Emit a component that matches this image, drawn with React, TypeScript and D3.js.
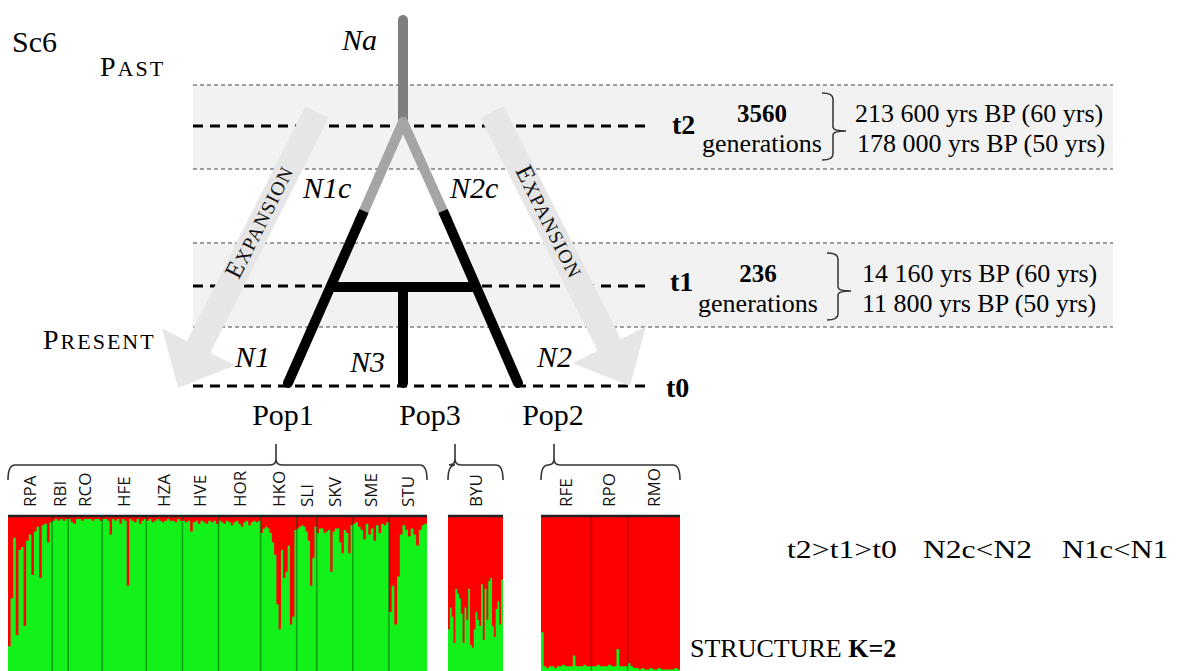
import { useEffect, useRef } from "react";
import * as d3 from "d3";

const W = 1177;
const H = 671;
const SERIF = "'Liberation Serif', 'Times New Roman', serif";
const SANS = "'Open Sans', 'DejaVu Sans', sans-serif";

// time axis of the scenario
const timeLabels = ["t2", "t1", "t0"];
const generationCounts = ["3560", "236"];
const yearsAt60 = ["213 600 yrs BP (60 yrs)", "14 160 yrs BP (60 yrs)"];
const yearsAt50 = ["178 000 yrs BP (50 yrs)", "11 800 yrs BP (50 yrs)"];
const relations = ["t2>t1>t0", "N2c<N2", "N1c<N1"];

// STRUCTURE K=2, share of the red cluster per individual
const pop1Groups = ["RPA", "RBI", "RCO", "HFE", "HZA", "HVE", "HOR", "HKO", "SLI", "SKV", "SME", "STU"];
const pop1Sizes = [22, 8, 17, 22, 18, 18, 21, 18, 10, 18, 18, 19];
const pop1Red = [
  [0.84, 0.53, 0.14, 0.77, 0.22, 0.2, 0.71, 0.16, 0.12, 0.38, 0.1, 0.07, 0.4, 0.06, 0.05, 0.17, 0.04],
  [0.03, 0.02, 0.03, 0.02, 0.03, 0.02],
  [0.02, 0.04, 0.05, 0.02, 0.02, 0.03, 0.02, 0.02, 0.02, 0.03, 0.02, 0.02, 0.03],
  [0.02, 0.02, 0.03, 0.12, 0.02, 0.03, 0.02, 0.05, 0.02, 0.03, 0.45, 0.02, 0.03, 0.04, 0.02, 0.05, 0.03, 0.02],
  [0.03, 0.02, 0.04, 0.03, 0.02, 0.03, 0.04, 0.03, 0.02, 0.03, 0.03, 0.04, 0.02, 0.03],
  [0.03, 0.04, 0.03, 0.1, 0.04, 0.03, 0.05, 0.03, 0.04, 0.05, 0.03, 0.04, 0.03, 0.05],
  [0.03, 0.04, 0.05, 0.03, 0.04, 0.06, 0.04, 0.03, 0.05, 0.07, 0.04, 0.03, 0.06, 0.04, 0.03, 0.04, 0.03],
  [0.11, 0.08, 0.07, 0.08, 0.11, 0.17, 0.25, 0.57, 0.73, 0.22, 0.4, 0.36, 0.19, 0.7, 0.65, 0.09],
  [0.08, 0.07, 0.06, 0.07, 0.1, 0.16, 0.45, 0.27, 0.07],
  [0.11, 0.08, 0.08, 0.11, 0.1, 0.09, 0.36, 0.1, 0.08, 0.08, 0.17, 0.24, 0.09, 0.11, 0.24, 0.06],
  [0.05, 0.04, 0.07, 0.09, 0.15, 0.05, 0.12, 0.08, 0.16, 0.06, 0.11, 0.05, 0.06, 0.04],
  [0.62, 0.45, 0.7, 0.39, 0.12, 0.06, 0.09, 0.13, 0.08, 0.12, 0.19, 0.09, 0.06, 0.05],
];

const pop3Groups = ["BYU"];
const pop3Sizes = [28];
const pop3Red = [
  [0.73, 0.59, 0.65, 0.82, 0.47, 0.5, 0.53, 0.63, 0.82, 0.59, 0.67, 0.47, 0.83, 0.85, 0.73,
    0.62, 0.67, 0.71, 0.44, 0.8, 0.47, 0.67, 0.42, 0.4, 0.71, 0.78, 0.6, 0.55, 0.7, 0.41],
];

const pop2Groups = ["RFE", "RPO", "RMO"];
const pop2Sizes = [25, 18, 26];
const pop2Red = [
  [0.75, 0.97, 0.98, 0.97, 0.97, 0.98, 0.97, 0.97, 0.96, 0.97, 0.97, 0.97, 0.9, 0.97, 0.97, 0.97, 0.96, 0.97, 0.97],
  [0.97, 0.97, 0.96, 0.97, 0.97, 0.97, 0.96, 0.97, 0.97, 0.86, 0.97, 0.97, 0.97],
  [0.95, 0.97, 0.98, 0.98, 0.99, 0.98, 0.99, 0.99, 0.98, 0.99, 0.99, 0.98, 0.99, 0.99, 0.99, 0.99, 0.99, 0.98, 0.99],
];

const panels = [
  { groups: pop1Groups, sizes: pop1Sizes, red: pop1Red, x0: 8, x1: 427, tip: 276 },
  { groups: pop3Groups, sizes: pop3Sizes, red: pop3Red, x0: 448, x1: 503, tip: 455 },
  { groups: pop2Groups, sizes: pop2Sizes, red: pop2Red, x0: 541, x1: 680, tip: 554 },
];

const timeY = [126, 286, 386];
const bands = [
  [85, 169],
  [243, 327],
];

function smallCaps(sel: any, word: string, big: number, small: number, spacing: number) {
  sel.append("tspan").style("font-size", `${big}px`).attr("letter-spacing", spacing).text(word[0]);
  sel.append("tspan").style("font-size", `${small}px`).attr("letter-spacing", spacing).text(word.slice(1));
}

export default function App() {
  const svgRef = useRef<SVGSVGElement | null>(null);

  useEffect(() => {
    if (!svgRef.current) return;
    const svg = d3.select(svgRef.current);
    svg.selectAll("*").remove();
    svg.append("rect").attr("width", W).attr("height", H).attr("fill", "#fff");

    // grey bands around t2 and t1
    bands.forEach(([a, b]) => {
      svg.append("rect").attr("x", 193).attr("y", a).attr("width", 920).attr("height", b - a).attr("fill", "#f2f2f2");
      [a, b].forEach((yy) =>
        svg
          .append("line")
          .attr("x1", 193)
          .attr("x2", 1113)
          .attr("y1", yy)
          .attr("y2", yy)
          .attr("stroke", "#444")
          .attr("stroke-width", 1)
          .attr("stroke-dasharray", "4 3"),
      );
    });

    timeY.forEach((yy) =>
      svg
        .append("line")
        .attr("x1", 193)
        .attr("x2", 652)
        .attr("y1", yy)
        .attr("y2", yy)
        .attr("stroke", "#000")
        .attr("stroke-width", 3)
        .attr("stroke-dasharray", "10 7"),
    );

    // expansion arrows
    const arrow = (top: [number, number], tip: [number, number], flip: boolean) => {
      const dx = tip[0] - top[0];
      const dy = tip[1] - top[1];
      const len = Math.hypot(dx, dy);
      const u = [dx / len, dy / len];
      const n = [-u[1], u[0]];
      const pt = (s: number, p: number): [number, number] => [top[0] + u[0] * s + n[0] * p, top[1] + u[1] * s + n[1] * p];
      const hw = 13;
      const base = len - 46;
      const poly = [pt(0, -hw), pt(base, -hw), pt(base, -41), pt(len, 0), pt(base, 41), pt(base, hw), pt(0, hw)];
      svg.append("path").attr("d", d3.line()(poly) + "Z").attr("fill", "#e6e6e6");
      const c = pt(124, 0);
      let ang = (Math.atan2(dy, dx) * 180) / Math.PI;
      if (flip) ang += 180;
      const t = svg
        .append("text")
        .attr("transform", `translate(${c[0]},${c[1]}) rotate(${ang})`)
        .attr("text-anchor", "middle")
        .attr("dy", "0.36em")
        .style("font-family", SERIF)
        .attr("fill", "#111");
      smallCaps(t, "EXPANSION", 25, 19.5, 1.2);
    };
    arrow([317, 112], [178, 388], true);
    arrow([492, 112], [630, 386], false);

    // tree
    const seg = (x1: number, y1: number, x2: number, y2: number, color: string, cap: string) =>
      svg
        .append("line")
        .attr("x1", x1)
        .attr("y1", y1)
        .attr("x2", x2)
        .attr("y2", y2)
        .attr("stroke", color)
        .attr("stroke-width", 10)
        .attr("stroke-linecap", cap);
    seg(403, 20, 403, 122, "#7f7f7f", "round");
    seg(403, 122, 360, 220, "#a5a5a5", "round");
    seg(403, 122, 447, 220, "#a5a5a5", "round");
    seg(360, 220, 288, 383, "#000", "round");
    seg(447, 220, 518, 383, "#000", "round");
    seg(331, 287, 476, 287, "#000", "butt");
    seg(403, 287, 403, 383, "#000", "round");
    seg(360, 220, 364, 211, "#000", "butt");
    seg(447, 220, 443, 211, "#000", "butt");

    const text = (x: number, y: number, s: string, size: number, opts: any = {}) =>
      svg
        .append("text")
        .attr("x", x)
        .attr("y", y)
        .attr("text-anchor", opts.anchor ?? "start")
        .style("font-family", SERIF)
        .style("font-size", `${size}px`)
        .style("font-style", opts.italic ? "italic" : "normal")
        .style("font-weight", opts.bold ? "bold" : "normal")
        .attr("fill", "#000")
        .text(s);

    text(12, 52, "Sc6", 30);
    smallCaps(svg.append("text").attr("x", 100).attr("y", 76).style("font-family", SERIF), "PAST", 28, 22, 2);
    smallCaps(svg.append("text").attr("x", 43).attr("y", 349).style("font-family", SERIF), "PRESENT", 28, 22, 2);

    text(342, 50, "Na", 30, { italic: true });
    text(303, 198, "N1c", 30, { italic: true });
    text(450, 198, "N2c", 30, { italic: true });
    text(235, 367, "N1", 30, { italic: true });
    text(350, 372, "N3", 30, { italic: true });
    text(537, 367, "N2", 30, { italic: true });
    text(283, 425, "Pop1", 30, { anchor: "middle" });
    text(430, 425, "Pop3", 30, { anchor: "middle" });
    text(553, 425, "Pop2", 30, { anchor: "middle" });

    const tX = [672, 670, 666];
    const tBase = [134, 291, 397];
    timeLabels.forEach((l, i) => text(tX[i], tBase[i], l, 28, { bold: true }));

    const genX = [762, 758];
    const yrsX = [855, 862];
    const braceX = [822, 827];
    generationCounts.forEach((g, i) => {
      const y0 = timeY[i];
      text(genX[i], y0 - 4, g, 25, { bold: true, anchor: "middle" });
      text(genX[i], y0 + 26, "generations", 26, { anchor: "middle" });
      text(yrsX[i], y0 - 4, yearsAt60[i], 26);
      text(yrsX[i] + (i === 0 ? 2 : 0), y0 + 26, yearsAt50[i], 26);
      const xl = braceX[i];
      const xr = xl + 11;
      const xt = xl + 24;
      const yt = y0 - 33;
      const yb = y0 + 34;
      const ym = y0 + 5;
      const p = d3.path();
      p.moveTo(xl, yt);
      p.quadraticCurveTo(xr, yt, xr, yt + 6);
      p.lineTo(xr, ym - 4);
      p.quadraticCurveTo(xr, ym, xt, ym);
      p.quadraticCurveTo(xr, ym, xr, ym + 4);
      p.lineTo(xr, yb - 6);
      p.quadraticCurveTo(xr, yb, xl, yb);
      svg.append("path").attr("d", p.toString()).attr("fill", "none").attr("stroke", "#333").attr("stroke-width", 1.5);
    });

    const relX = [787, 923, 1062];
    const relLen = [110, 109, 106];
    relations.forEach((r, i) => text(relX[i], 558, r, 26).attr("textLength", relLen[i]).attr("lengthAdjust", "spacingAndGlyphs"));

    const st = text(690, 657, "STRUCTURE ", 26);
    st.append("tspan").style("font-weight", "bold").text("K=2");

    // STRUCTURE bar plots
    const y = d3.scaleLinear().domain([0, 1]).range([516, 671]);
    panels.forEach((panel) => {
      const x = d3.scaleLinear().domain([0, d3.sum(panel.sizes)]).range([panel.x0, panel.x1]);
      svg
        .append("rect")
        .attr("x", panel.x0)
        .attr("y", y(0))
        .attr("width", panel.x1 - panel.x0)
        .attr("height", y(1) - y(0))
        .attr("fill", "#12f21a");
      let offset = 0;
      panel.groups.forEach((g, gi) => {
        const gx0 = x(offset);
        const gx1 = x(offset + panel.sizes[gi]);
        offset += panel.sizes[gi];
        const vals = panel.red[gi];
        const step = (gx1 - gx0) / vals.length;
        const pts: [number, number][] = vals.map((q, i) => [gx0 + i * step, q]);
        pts.push([gx1, vals[vals.length - 1]]);
        const area = d3
          .area<[number, number]>()
          .x((d) => d[0])
          .y0(y(0))
          .y1((d) => y(d[1]))
          .curve(d3.curveStepAfter);
        svg.append("path").attr("d", area(pts)).attr("fill", "#fe0000");
        if (gi > 0) {
          svg
            .append("line")
            .attr("x1", gx0)
            .attr("x2", gx0)
            .attr("y1", y(0))
            .attr("y2", y(1))
            .attr("stroke", "rgba(0,0,0,0.35)")
            .attr("stroke-width", 1.5);
        }
        svg
          .append("text")
          .attr("transform", `translate(${(gx0 + gx1) / 2 + 6},507) rotate(-90)`)
          .style("font-family", SANS)
          .style("font-size", "17px")
          .attr("fill", "#111")
          .text(g);
      });
      svg
        .append("line")
        .attr("x1", panel.x0)
        .attr("x2", panel.x1)
        .attr("y1", 516)
        .attr("y2", 516)
        .attr("stroke", "#222")
        .attr("stroke-width", 2.5);

      // curly brace over the panel
      const b = d3.path();
      const ym = 465;
      b.moveTo(panel.x0, 480);
      b.quadraticCurveTo(panel.x0, ym, panel.x0 + 7, ym);
      b.lineTo(panel.tip - 6, ym);
      b.quadraticCurveTo(panel.tip, ym, panel.tip, ym - 6);
      b.lineTo(panel.tip, 444);
      b.moveTo(panel.tip, ym - 6);
      b.quadraticCurveTo(panel.tip, ym, panel.tip + 6, ym);
      b.lineTo(panel.x1 - 7, ym);
      b.quadraticCurveTo(panel.x1, ym, panel.x1, 480);
      svg.append("path").attr("d", b.toString()).attr("fill", "none").attr("stroke", "#333").attr("stroke-width", 1.6);
    });
  }, []);

  return (
    <svg
      ref={svgRef}
      width={W}
      height={H}
      viewBox={`0 0 ${W} ${H}`}
      style={{ position: "absolute", left: 0, top: 0, display: "block" }}
    />
  );
}
